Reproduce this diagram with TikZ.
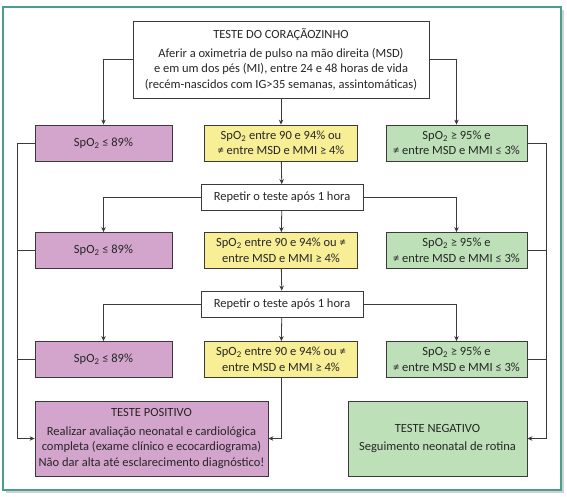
\documentclass[tikz,border=0pt]{standalone}
\usepackage{fontspec}
\setmainfont{Carlito}
\usetikzlibrary{arrows.meta}
\definecolor{roxo}{HTML}{D3A5CC}
\definecolor{amarelo}{HTML}{F8EE96}
\definecolor{verde}{HTML}{BDE0B8}
\definecolor{moldura}{HTML}{4A9E90}
\definecolor{traco}{HTML}{3A3A3A}

\begin{document}
\begin{tikzpicture}[x=1pt, y=-1pt,
    caixa/.style={draw=traco, line width=0.8pt, align=center, inner sep=0pt,
        font=\fontsize{12.5}{15.5}\selectfont, text=black!85},
    seta/.style={draw=traco, line width=0.8pt, -{Stealth[length=5pt, width=4.5pt]}},
    linha/.style={draw=traco, line width=0.8pt}]
    \useasboundingbox (0,0) rectangle (567,496);
    \fill[black!18] (6,10) rectangle (564,493);
    \draw[moldura, line width=1.5pt, fill=white] (3,7) rectangle (561,490);

    \node[caixa, fill=white, minimum width=296, minimum height=77] (topo) at (281,59.5)
        {TESTE DO CORAÇÃOZINHO\\[3pt]
         Aferir a oximetria de pulso na mão direita (MSD)\\
         e em um dos pés (MI), entre 24 e 48 horas de vida\\
         (recém-nascidos com IG>35 semanas, assintomáticas)};

    \node[caixa, fill=roxo, minimum width=137, minimum height=36] (p1) at (103.5,143) {SpO\textsubscript{2} ≤ 89\%};
    \node[caixa, fill=amarelo, minimum width=153, minimum height=36] (a1) at (281,143) {SpO\textsubscript{2} entre 90 e 94\% ou\\≠ entre MSD e MMI ≥ 4\%};
    \node[caixa, fill=verde, minimum width=141, minimum height=36] (v1) at (456.5,143) {SpO\textsubscript{2} ≥ 95\% e\\≠ entre MSD e MMI ≤ 3\%};

    \node[caixa, fill=white, minimum width=162, minimum height=26] (rep1) at (282,197.5) {Repetir o teste após 1 hora};

    \node[caixa, fill=roxo, minimum width=137, minimum height=36] (p2) at (103.5,250.5) {SpO\textsubscript{2} ≤ 89\%};
    \node[caixa, fill=amarelo, minimum width=153, minimum height=36] (a2) at (281,250.5) {SpO\textsubscript{2} entre 90 e 94\% ou ≠\\entre MSD e MMI ≥ 4\%};
    \node[caixa, fill=verde, minimum width=141, minimum height=36] (v2) at (456.5,250.5) {SpO\textsubscript{2} ≥ 95\% e\\≠ entre MSD e MMI ≤ 3\%};

    \node[caixa, fill=white, minimum width=162, minimum height=26] (rep2) at (282,304) {Repetir o teste após 1 hora};

    \node[caixa, fill=roxo, minimum width=137, minimum height=36] (p3) at (103.5,359.5) {SpO\textsubscript{2} ≤ 89\%};
    \node[caixa, fill=amarelo, minimum width=153, minimum height=36] (a3) at (281,359.5) {SpO\textsubscript{2} entre 90 e 94\% ou ≠\\entre MSD e MMI ≥ 4\%};
    \node[caixa, fill=verde, minimum width=141, minimum height=36] (v3) at (456.5,359.5) {SpO\textsubscript{2} ≥ 95\% e\\≠ entre MSD e MMI ≤ 3\%};

    \node[caixa, fill=roxo, minimum width=233, minimum height=75] (pos) at (151.5,438.5)
        {TESTE POSITIVO\\[3pt]
         Realizar avaliação neonatal e cardiológica\\
         completa (exame clínico e ecocardiograma)\\
         Não dar alta até esclarecimento diagnóstico!};
    \node[caixa, fill=verde, minimum width=179, minimum height=75] (neg) at (437.5,438.5)
        {TESTE NEGATIVO\\[3pt]Seguimento neonatal de rotina};

    \coordinate (esq) at (17,0);
    \coordinate (dir) at (546,0);

    \draw[seta] (topo.west) -| (p1.north);
    \draw[seta] (topo) -- (a1);
    \draw[seta] (topo.east) -| (v1.north);
    \draw[seta] (a1) -- (rep1);
    \draw[seta] (rep1.west) -| (p2.north);
    \draw[seta] (rep1) -- (a2);
    \draw[seta] (rep1.east) -| (v2.north);
    \draw[seta] (a2) -- (rep2);
    \draw[seta] (rep2.west) -| (p3.north);
    \draw[seta] (rep2) -- (a3);
    \draw[seta] (rep2.east) -| (v3.north);
    \draw[seta] (a3.south) |- (pos.east);

    \draw[seta] (p1.west) -| (esq |- pos.west) -- (pos.west);
    \draw[linha] (p2.west) -- (p2.west -| esq);
    \draw[linha] (p3.west) -- (p3.west -| esq);
    \draw[seta] (v1.east) -| (dir |- neg.east) -- (neg.east);
    \draw[linha] (v2.east) -- (v2.east -| dir);
    \draw[linha] (v3.east) -- (v3.east -| dir);
\end{tikzpicture}
\end{document}
